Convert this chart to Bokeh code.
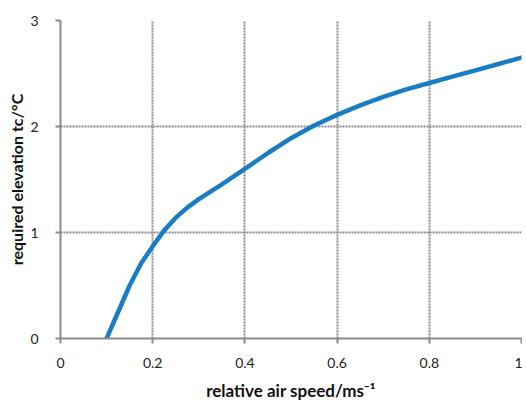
from bokeh.plotting import figure
from bokeh.models import FixedTicker, Range1d
from bokeh.embed import file_html
from bokeh.resources import INLINE

# data
air_speed = [0.10, 0.125, 0.15, 0.175, 0.20, 0.225, 0.25, 0.275, 0.30, 0.35, 0.40,
             0.45, 0.50, 0.55, 0.60, 0.65, 0.70, 0.75, 0.80, 0.85, 0.90, 0.95, 1.00]
elevation = [0.00, 0.25, 0.50, 0.71, 0.87, 1.02, 1.14, 1.235, 1.315, 1.455, 1.60,
             1.75, 1.89, 2.01, 2.11, 2.20, 2.28, 2.35, 2.41, 2.47, 2.53, 2.59, 2.65]

x_ticks = [0, 0.2, 0.4, 0.6, 0.8, 1.0]
x_tick_labels = ["0", "0.2", "0.4", "0.6", "0.8", "1"]
y_ticks = [0, 1, 2, 3]
y_tick_labels = ["0", "1", "2", "3"]

x_title = "relative air speed/ms\u207b\u00b9"
y_title = "required elevation tc/°C"

p = figure(width=522, height=403, output_backend="svg", toolbar_location=None,
           x_range=Range1d(0, 1), y_range=Range1d(0, 3),
           min_border_left=60, min_border_right=1, min_border_top=20,
           min_border_bottom=10)
p.outline_line_color = None
p.background_fill_color = "white"
p.border_fill_color = "white"

p.line(air_speed, elevation, line_color="#1a7dc4", line_width=4.5,
       line_join="round", line_cap="round")

grid_color = "#8a8a8a"
for ax in (p.xaxis[0], p.yaxis[0]):
    ax.axis_line_color = grid_color
    ax.axis_line_width = 2
    ax.major_tick_line_color = grid_color
    ax.major_tick_line_width = 2
    ax.major_tick_out = 5
    ax.major_tick_in = 0
    ax.minor_tick_line_color = None
    ax.major_label_text_font = "Lato"
    ax.major_label_text_font_size = "14px"
    ax.major_label_text_color = "#222222"
    ax.axis_label_text_font = "Lato"
    ax.axis_label_text_font_style = "bold"
    ax.axis_label_text_color = "#111111"

p.xaxis[0].axis_label_text_font_size = "17px"
p.yaxis[0].axis_label_text_font_size = "16px"
p.xaxis[0].ticker = FixedTicker(ticks=x_ticks)
p.yaxis[0].ticker = FixedTicker(ticks=y_ticks)
p.xaxis[0].major_label_overrides = {t: l for t, l in zip(x_ticks, x_tick_labels)}
p.yaxis[0].major_label_overrides = {t: l for t, l in zip(y_ticks, y_tick_labels)}
p.xaxis[0].axis_label = x_title
p.yaxis[0].axis_label = y_title
p.xaxis[0].major_label_standoff = 14
p.xaxis[0].axis_label_standoff = 9
p.yaxis[0].major_label_standoff = 17
p.yaxis[0].axis_label_standoff = 1

for g in (p.xgrid[0], p.ygrid[0]):
    g.grid_line_color = grid_color
    g.grid_line_width = 2
    g.grid_line_dash = "2 1"
p.xgrid[0].ticker = FixedTicker(ticks=x_ticks)
p.ygrid[0].ticker = FixedTicker(ticks=y_ticks)

open("out.html", "w").write(file_html(p, INLINE))
